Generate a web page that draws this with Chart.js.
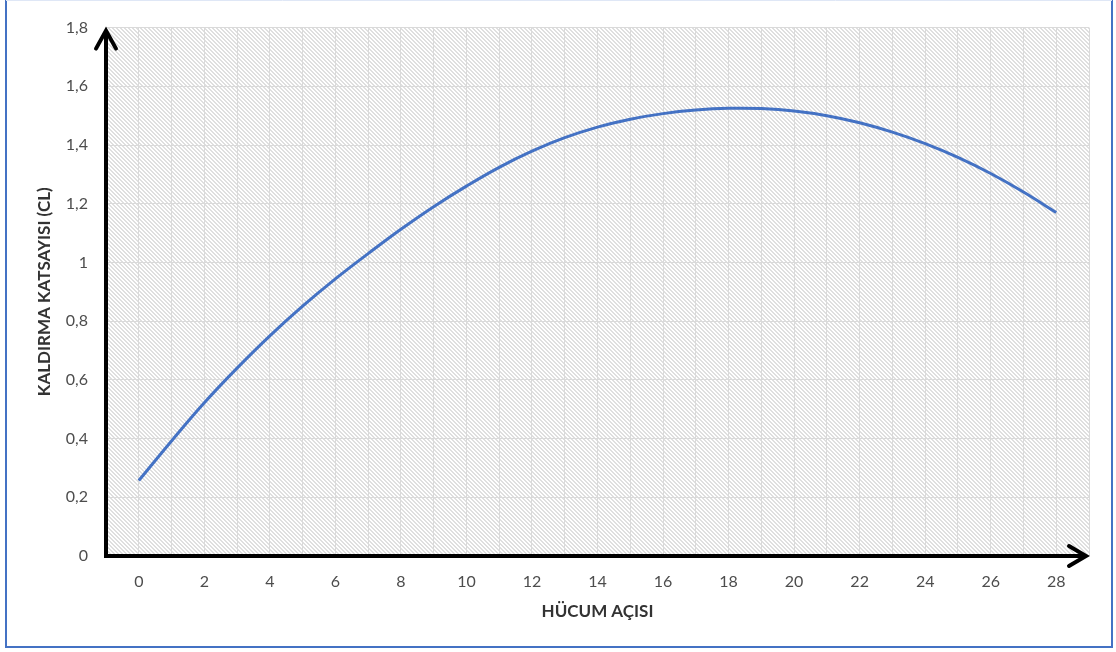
<!DOCTYPE html>
<html lang="tr">
<head>
<meta charset="utf-8">
<title>Kaldırma Katsayısı - Hücum Açısı</title>
<script src="https://cdn.jsdelivr.net/npm/chart.js@4.4.1/dist/chart.umd.min.js"></script>
<style>
  html, body { margin: 0; padding: 0; background: #ffffff; }
  #wrap { position: relative; width: 1116px; height: 652px; }
  canvas { display: block; }
</style>
</head>
<body>
<div id="wrap"><canvas id="cl" width="1116" height="652"></canvas></div>
<script>
// Angle of attack (degrees) and lift coefficient readings
const angles = [0, 1, 2, 3, 4, 5, 6, 7, 8, 9, 10, 11, 12, 13, 14, 15, 16, 17, 18, 19, 20, 21, 22, 23, 24, 25, 26, 27, 28];
const liftCoeff = [0.257, 0.392, 0.522, 0.640, 0.750, 0.851, 0.944, 1.030, 1.113, 1.190, 1.260, 1.324, 1.379, 1.425, 1.461, 1.488, 1.507, 1.519, 1.525, 1.524, 1.516, 1.500, 1.476, 1.444, 1.405, 1.358, 1.303, 1.240, 1.170];

// Axis ranges and labelled ticks
const xMin = -1, xMax = 29;
const xLabelTicks = [0, 2, 4, 6, 8, 10, 12, 14, 16, 18, 20, 22, 24, 26, 28];
const yTicks = [0, 0.2, 0.4, 0.6, 0.8, 1, 1.2, 1.4, 1.6, 1.8];

const xTitle = 'HÜCUM AÇISI';
const yTitle = 'KALDIRMA KATSAYISI (CL)';

const points = angles.map((a, i) => ({ x: a, y: liftCoeff[i] }));

// Diagonal hatch tile for the plot background
function makeHatch(ctx) {
  const tile = document.createElement('canvas');
  tile.width = 8; tile.height = 8;
  const t = tile.getContext('2d');
  t.fillStyle = '#ffffff';
  t.fillRect(0, 0, 8, 8);
  t.fillStyle = '#dfdfdf';
  for (let y = 0; y < 8; y++) {
    for (let x = 0; x < 8; x++) {
      const m = ((x - y) % 4 + 4) % 4;
      if (m === 0 || m === 1) t.fillRect(x, y, 1, 1);
    }
  }
  return ctx.createPattern(tile, 'repeat');
}

const decorPlugin = {
  id: 'decor',
  beforeDraw(chart) {
    const { ctx, chartArea: a } = chart;
    ctx.save();
    ctx.fillStyle = makeHatch(ctx);
    ctx.fillRect(a.left, a.top, a.right - a.left, a.bottom - a.top);
    ctx.restore();
  },
  afterDraw(chart) {
    const { ctx, chartArea: a } = chart;
    ctx.save();
    // frame
    ctx.strokeStyle = '#4472c4';
    ctx.lineWidth = 2;
    ctx.beginPath();
    ctx.moveTo(6, 0); ctx.lineTo(6, 647); ctx.lineTo(1112, 647); ctx.lineTo(1112, 0);
    ctx.stroke();
    ctx.strokeStyle = '#dfe7f6';
    ctx.lineWidth = 1;
    ctx.beginPath(); ctx.moveTo(6, 0.5); ctx.lineTo(1112, 0.5); ctx.stroke();

    // axes with arrow heads
    ctx.strokeStyle = '#000000';
    ctx.lineWidth = 4;
    ctx.lineCap = 'butt';
    ctx.lineJoin = 'miter';
    ctx.beginPath();
    ctx.moveTo(a.left, a.top + 3);
    ctx.lineTo(a.left, a.bottom);
    ctx.lineTo(a.right - 3, a.bottom);
    ctx.stroke();

    ctx.lineCap = 'round';
    ctx.beginPath();
    ctx.moveTo(a.left - 10, a.top + 21);
    ctx.lineTo(a.left, a.top + 3);
    ctx.lineTo(a.left + 10, a.top + 21);
    ctx.stroke();
    ctx.beginPath();
    ctx.moveTo(a.right - 20, a.bottom - 10);
    ctx.lineTo(a.right - 3, a.bottom);
    ctx.lineTo(a.right - 20, a.bottom + 10);
    ctx.stroke();
    ctx.restore();
  }
};

const tickFont = { family: 'Lato', size: 16 };
const titleFont = { family: 'Lato', size: 17, weight: 'bold' };

new Chart(document.getElementById('cl'), {
  type: 'line',
  data: {
    datasets: [{
      data: points,
      borderColor: '#4472c4',
      borderWidth: 3,
      pointRadius: 0,
      tension: 0.4,
      fill: false
    }]
  },
  options: {
    responsive: false,
    animation: false,
    events: [],
    layout: { padding: { top: 23, right: 27, left: 0, bottom: 0 } },
    plugins: { legend: { display: false }, tooltip: { enabled: false } },
    scales: {
      x: {
        type: 'linear',
        min: xMin, max: xMax,
        afterFit(s) { s.height = 96; },
        afterBuildTicks(s) {
          const t = [];
          for (let v = xMin; v <= xMax; v++) t.push({ value: v });
          s.ticks = t;
        },
        border: { display: false },
        grid: { color: '#dadada', lineWidth: 1, drawTicks: false },
        ticks: {
          autoSkip: false, maxRotation: 0, padding: 16,
          color: '#4d4d4d', font: tickFont,
          callback: v => xLabelTicks.includes(v) ? String(v) : ''
        },
        title: { display: true, text: xTitle, color: '#333333', font: titleFont, padding: { top: 0, bottom: 30 } }
      },
      y: {
        type: 'linear',
        min: yTicks[0], max: yTicks[yTicks.length - 1],
        afterFit(s) { s.width = 106; },
        afterBuildTicks(s) { s.ticks = yTicks.map(v => ({ value: v })); },
        border: { display: false },
        grid: { color: '#dadada', lineWidth: 1, drawTicks: false },
        ticks: {
          padding: 18, color: '#4d4d4d', font: tickFont,
          callback: v => String(Math.round(v * 10) / 10).replace('.', ',')
        },
        title: { display: true, text: yTitle, color: '#333333', font: titleFont, padding: { top: 34, bottom: 0 } }
      }
    }
  },
  plugins: [decorPlugin]
});
</script>
</body>
</html>
